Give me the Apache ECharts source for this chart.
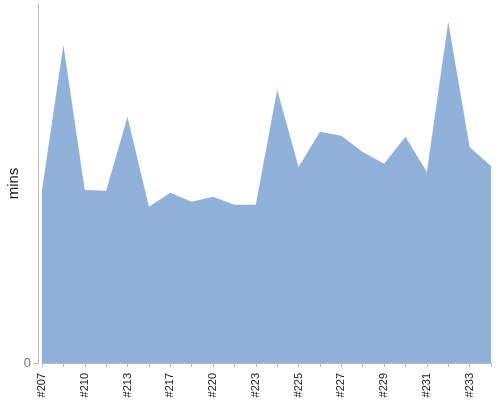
<!DOCTYPE html>
<html>
<head>
<meta charset="utf-8">
<script src="https://cdn.jsdelivr.net/npm/echarts@6/dist/echarts.min.js"></script>
<style>
html,body{margin:0;padding:0;background:#fff;}
#main{width:500px;height:400px;}
</style>
</head>
<body>
<div id="main"></div>
<script>
// builds, in order
var builds = ['#207','#208','#210','#211','#213','#215','#217','#218','#220','#221','#223',
	'#224','#225','#226','#227','#228','#229','#230','#231','#232','#233','#234'];
// build time
var mins = [48.2, 88.6, 48.2, 48.0, 68.5, 43.5, 47.4, 44.9, 46.3, 44.1, 44.1,
	76.1, 54.6, 64.4, 63.3, 58.8, 55.5, 63.0, 53.2, 95.0, 60.2, 54.9];
var yTicks = [0];

var myChart = echarts.init(document.getElementById('main'));
var option = {
	animation: false,
	textStyle: {fontFamily: 'Liberation Sans'},
	grid: {left: 42, right: 9, top: 4, bottom: 37, containLabel: false, outerBoundsMode: 'none'},
	xAxis: {
		type: 'category',
		boundaryGap: false,
		data: builds,
		offset: 5,
		axisLine: {lineStyle: {color: '#bbb'}},
		axisTick: {interval: 0, length: 4, lineStyle: {color: '#bbb'}},
		axisLabel: {interval: 1, rotate: 90, color: '#222', fontSize: 11, margin: 5}
	},
	yAxis: {
		type: 'value',
		min: 0,
		max: 100,
		offset: 4,
		name: 'mins',
		nameLocation: 'middle',
		nameGap: 17,
		nameMoveOverlap: false,
		nameTextStyle: {color: '#222', fontSize: 15},
		splitLine: {show: false},
		axisLine: {show: true, lineStyle: {color: '#bbb'}},
		axisTick: {show: true, length: 4, customValues: yTicks, lineStyle: {color: '#bbb'}},
		axisLabel: {customValues: yTicks, color: '#777', fontSize: 13, margin: 7}
	},
	series: [{
		type: 'line',
		data: mins,
		symbol: 'none',
		lineStyle: {width: 0},
		areaStyle: {color: '#90b2da', opacity: 1}
	}]
};
myChart.setOption(option);
</script>
</body>
</html>
